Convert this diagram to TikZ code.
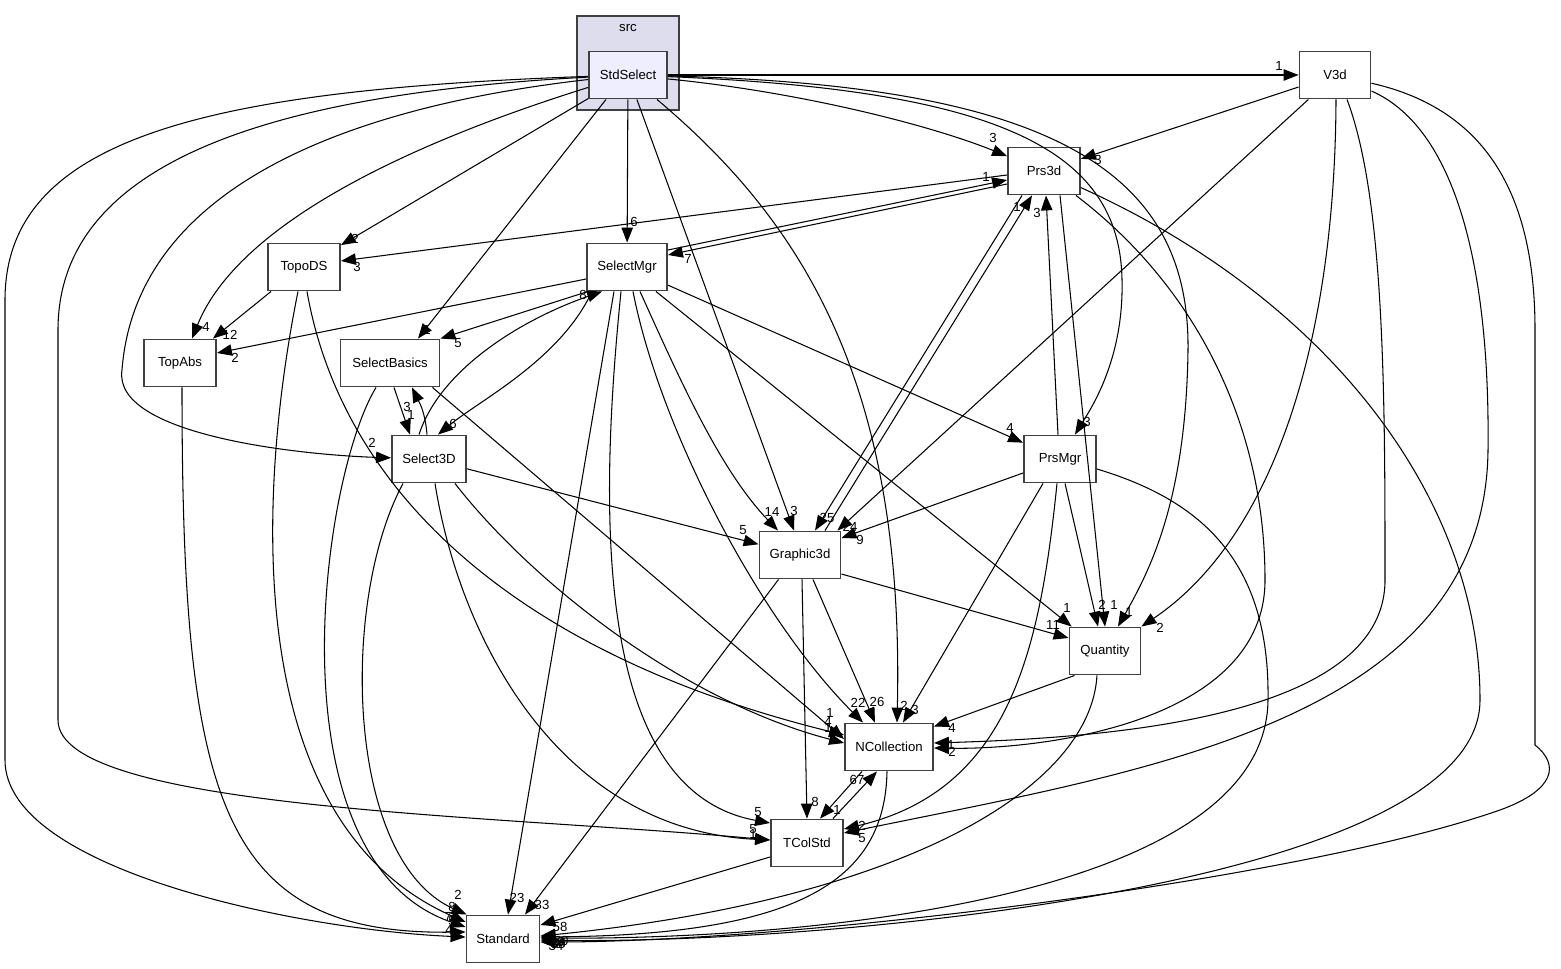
\documentclass[tikz,border=0pt]{standalone}
\usepackage{fontspec}
\setmainfont{Liberation Sans}
\usepackage{tikz}
\usetikzlibrary{arrows.meta,positioning,calc}
\definecolor{BoxLine}{HTML}{404040}
\definecolor{MainFill}{HTML}{EEEEFF}
\definecolor{SrcFill}{HTML}{DDDDEE}
\tikzset{
    every node/.style={font=\fontsize{7.5}{9}\selectfont},
    dirbox/.style={
        draw=BoxLine, fill=white, line width=1.1pt,
        minimum height=0.94cm, inner sep=0pt,
        text=black
    },
    mainbox/.style={dirbox, fill=MainFill},
    srcbox/.style={
        draw=BoxLine, fill=SrcFill, line width=1pt, inner sep=0pt
    },
    dep/.style={
        -{Triangle[length=8.5pt,width=6.5pt]}, line width=0.6pt, black
    },
    cnt/.style={inner sep=0pt, text=black},
}

\begin{document}
\begin{tikzpicture}[x=0.02cm, y=-0.02cm]
    \useasboundingbox (0,0) rectangle (1561,969);

    % Cluster src
    \node[srcbox, minimum width=2.04cm, minimum height=1.88cm] (src) at (628,63) {};
    \node[cnt, below=0.17cm of src.north] (srclabel) {src};

    % Directories
    \node[mainbox, minimum width=1.56cm] (StdSelect) at (628,75) {StdSelect};
    \node[dirbox, minimum width=1.42cm] (V3d) at (1335,75) {V3d};
    \node[dirbox, minimum width=1.44cm] (Prs3d) at (1044,171) {Prs3d};
    \node[dirbox, minimum width=1.44cm] (TopoDS) at (304,267) {TopoDS};
    \node[dirbox, minimum width=1.60cm] (SelectMgr) at (627,267) {SelectMgr};
    \node[dirbox, minimum width=1.44cm] (TopAbs) at (180,363) {TopAbs};
    \node[dirbox, minimum width=1.98cm] (SelectBasics) at (390,363) {SelectBasics};
    \node[dirbox, minimum width=1.48cm] (Select3D) at (429,459) {Select3D};
    \node[dirbox, minimum width=1.44cm] (PrsMgr) at (1060,459) {PrsMgr};
    \node[dirbox, minimum width=1.62cm] (Graphic3d) at (800,555) {Graphic3d};
    \node[dirbox, minimum width=1.42cm] (Quantity) at (1105,651) {Quantity};
    \node[dirbox, minimum width=1.76cm] (NCollection) at (889,747) {NCollection};
    \node[dirbox, minimum width=1.44cm] (TColStd) at (807,843) {TColStd};
    \node[dirbox, minimum width=1.46cm] (Standard) at (503,939) {Standard};

    % StdSelect
    \draw[dep] (StdSelect) -- (V3d) node[cnt] at (1279,66) {1};
    \draw[dep] (StdSelect) .. controls (800,92) and (930,125) .. (Prs3d) node[cnt] at (993,138) {3};
    \draw[dep] (StdSelect) -- (TopoDS) node[cnt] at (355,239) {2};
    \draw[dep] (StdSelect) .. controls (420,140) and (240,220) .. ($(TopAbs.north)+(12,0)$) node[cnt] at (206,327) {4};
    \draw[dep] ($(StdSelect.south)+(-22,0)$) -- ($(SelectBasics.north)+(28,0)$) node[cnt] at (427,330) {1};
    \draw[dep] (StdSelect) .. controls (320,110) and (135,200) .. (122,370)
        .. controls (112,435) and (300,455) .. (Select3D) node[cnt] at (372,443) {2};
    \draw[dep] (StdSelect) -- (SelectMgr) node[cnt] at (634,222) {6};
    \draw[dep] (StdSelect) -- ($(Graphic3d.north)+(-6,0)$) node[cnt] at (794,511) {3};
    \draw[dep] (StdSelect) .. controls (800,220) and (905,380) .. ($(NCollection.north)+(8,0)$) node[cnt] at (904,706) {2};
    \draw[dep] (StdSelect) .. controls (1050,85) and (1190,170) .. (1188,350)
        .. controls (1186,500) and (1150,570) .. ($(Quantity.north)+(13,0)$) node[cnt] at (1129,612) {1};
    \draw[dep] (StdSelect) .. controls (1000,90) and (1120,150) .. (1122,280)
        .. controls (1124,360) and (1090,410) .. (PrsMgr) node[cnt] at (1087,422) {3};
    \draw[dep] (StdSelect) .. controls (250,95) and (58,170) .. (58,330) -- (58,720)
        .. controls (58,810) and (500,815) .. ($(TColStd.west)+(0,-3)$) node[cnt] at (753,834) {1};
    \draw[dep] (StdSelect) .. controls (200,90) and (5,140) .. (5,300) -- (5,760)
        .. controls (5,870) and (300,930) .. ($(Standard.west)+(0,-2)$) node[cnt] at (449,930) {4};

    % V3d
    \draw[dep] (V3d) -- (Prs3d) node[cnt] at (1098,160) {3};
    \draw[dep] (V3d) -- ($(Graphic3d.north east)+(-4,0)$) node[cnt] at (850,527) {24};
    \draw[dep] ($(V3d.south)+(1,0)$) .. controls (1335,350) and (1270,540) .. (Quantity.north east) node[cnt] at (1160,628) {2};
    \draw[dep] ($(V3d.south)+(12,0)$) .. controls (1385,200) and (1385,400) .. (1385,580)
        .. controls (1385,720) and (1100,738) .. ($(NCollection.east)+(0,-4)$) node[cnt] at (951,745) {1};
    \draw[dep] (V3d) .. controls (1460,130) and (1490,280) .. (1488,450)
        .. controls (1485,720) and (1150,770) .. ($(TColStd.east)+(0,-10)$) node[cnt] at (862,838) {5};
    \draw[dep] (V3d) .. controls (1490,110) and (1535,200) .. (1535,330) -- (1535,745)
        .. controls (1560,765) and (1555,790) .. (1500,810)
        .. controls (1300,880) and (800,942) .. ($(Standard.east)+(0,3)$) node[cnt] at (556,946) {34};

    % Prs3d
    \draw[dep] ($(Prs3d.west)+(0,4)$) -- ($(TopoDS.east)+(0,-6)$) node[cnt] at (357,267) {3};
    \draw[dep] ($(Prs3d.west)+(0,13)$) -- ($(SelectMgr.east)+(0,-12)$) node[cnt] at (688,259) {7};
    \draw[dep] ($(Prs3d.south)+(-22,0)$) -- ($(Graphic3d.north)+(15,0)$) node[cnt] at (827,518) {25};
    \draw[dep] ($(Prs3d.south)+(16,0)$) -- (Quantity.north) node[cnt] at (1114,605) {1};
    \draw[dep] ($(Prs3d.south east)+(-5,0)$) .. controls (1200,290) and (1265,430) .. (1265,580)
        .. controls (1265,720) and (1050,750) .. ($(NCollection.east)+(0,1)$) node[cnt] at (952,752) {2};
    \draw[dep] (Prs3d) .. controls (1330,300) and (1480,500) .. (1480,700)
        .. controls (1480,890) and (800,945) .. ($(Standard.east)+(0,1)$) node[cnt] at (561,941) {50};

    % SelectMgr
    \draw[dep] ($(SelectMgr.east)+(0,-17)$) -- ($(Prs3d.west)+(0,9)$) node[cnt] at (986,177) {1};
    \draw[dep] ($(SelectMgr.west)+(0,12)$) -- ($(TopAbs.east)+(0,-10)$) node[cnt] at (235,358) {2};
    \draw[dep] ($(SelectMgr.south west)+(2,0)$) -- (SelectBasics.north east) node[cnt] at (458,343) {5};
    \draw[dep] ($(SelectMgr.south west)+(6,0)$) .. controls (560,360) and (480,400) .. ($(Select3D.north)+(9,0)$) node[cnt] at (453,424) {6};
    \draw[dep] ($(SelectMgr.south)+(13,0)$) .. controls (680,380) and (720,470) .. ($(Graphic3d.north)+(-22,0)$) node[cnt] at (772,512) {14};
    \draw[dep] (SelectMgr) -- (PrsMgr) node[cnt] at (1010,428) {4};
    \draw[dep] ($(SelectMgr.south east)+(-12,0)$) -- ($(Quantity.north west)+(3,0)$) node[cnt] at (1067,608) {1};
    \draw[dep] ($(SelectMgr.south)+(6,0)$) .. controls (660,430) and (760,620) .. ($(NCollection.north)+(-26,0)$) node[cnt] at (858,703) {22};
    \draw[dep] ($(SelectMgr.south)+(-6,0)$) .. controls (600,500) and (590,790) .. ($(TColStd.west)+(0,-20)$) node[cnt] at (758,812) {5};
    \draw[dep] ($(SelectMgr.south)+(-13,0)$) -- ($(Standard.north)+(5,0)$) node[cnt] at (517,898) {23};

    % TopoDS
    \draw[dep] ($(TopoDS.south west)+(4,0)$) -- ($(TopAbs.north east)+(-4,0)$) node[cnt] at (230,335) {12};
    \draw[dep] ($(TopoDS.south)+(-6,0)$) .. controls (260,480) and (235,820) .. ($(Standard.west)+(0,-17)$) node[cnt] at (452,907) {8};
    \draw[dep] ($(TopoDS.south)+(3,0)$) .. controls (340,480) and (500,650) .. ($(NCollection.west)+(0,-12)$) node[cnt] at (830,713) {1};

    % TopAbs
    \draw[dep] ($(TopAbs.south)+(2,0)$) .. controls (182,800) and (220,935) .. ($(Standard.west)+(0,-7)$) node[cnt] at (452,921) {5};

    % SelectBasics
    \draw[dep] ($(SelectBasics.south)+(4,0)$) -- ($(Select3D.north)+(-19,0)$) node[cnt] at (411,415) {1};
    \draw[dep] ($(SelectBasics.south east)+(-8,0)$) -- ($(NCollection.west)+(0,-8)$) node[cnt] at (828,722) {4};
    \draw[dep] ($(SelectBasics.south)+(-14,0)$) .. controls (320,480) and (270,860) .. ($(Standard.west)+(0,-12)$) node[cnt] at (448,917) {7};

    % Select3D
    \draw[dep] ($(Select3D.north)+(-2,0)$) .. controls (425,410) and (418,400) .. ($(SelectBasics.south)+(22,0)$) node[cnt] at (407,407) {3};
    \draw[dep] ($(Select3D.north)+(-10,0)$) .. controls (440,370) and (520,320) .. ($(SelectMgr.south west)+(16,0)$) node[cnt] at (583,295) {8};
    \draw[dep] (Select3D) -- (Graphic3d) node[cnt] at (743,530) {5};
    \draw[dep] ($(Select3D.south east)+(-12,0)$) .. controls (530,580) and (680,700) .. ($(NCollection.west)+(0,-4)$) node[cnt] at (828,728) {1};
    \draw[dep] ($(Select3D.south)+(6,0)$) .. controls (460,640) and (560,830) .. ($(TColStd.west)+(0,-3)$) node[cnt] at (753,829) {5};
    \draw[dep] ($(Select3D.south west)+(12,0)$) .. controls (340,600) and (345,860) .. ($(Standard.north west)+(1,0)$) node[cnt] at (458,895) {2};

    % PrsMgr
    \draw[dep] ($(PrsMgr.north)+(-2,0)$) -- ($(Prs3d.south)+(2,0)$) node[cnt] at (1037,213) {3};
    \draw[dep] ($(PrsMgr.west)+(0,14)$) -- ($(Graphic3d.east)+(0,-17)$) node[cnt] at (860,540) {9};
    \draw[dep] ($(PrsMgr.south)+(5,0)$) -- ($(Quantity.north)+(-7,0)$) node[cnt] at (1102,605) {2};
    \draw[dep] ($(PrsMgr.south)+(-17,0)$) -- ($(NCollection.north)+(14,0)$) node[cnt] at (915,710) {3};
    \draw[dep] ($(PrsMgr.south)+(-3,0)$) .. controls (1040,650) and (1010,790) .. ($(TColStd.east)+(0,-14)$) node[cnt] at (862,826) {2};
    \draw[dep] ($(PrsMgr.east)+(0,10)$) .. controls (1200,500) and (1270,560) .. (1268,700)
        .. controls (1266,900) and (800,940) .. ($(Standard.east)+(0,-1)$) node[cnt] at (557,942) {30};

    % Graphic3d
    \draw[dep] ($(Graphic3d.north)+(25,0)$) -- ($(Prs3d.south)+(-12,0)$) node[cnt] at (1017,207) {1};
    \draw[dep] ($(Graphic3d.east)+(0,19)$) -- ($(Quantity.west)+(0,-13)$) node[cnt] at (1053,625) {11};
    \draw[dep] ($(Graphic3d.south)+(13,0)$) -- ($(NCollection.north)+(-14,0)$) node[cnt] at (877,702) {26};
    \draw[dep] ($(Graphic3d.south)+(2,0)$) -- (TColStd.north) node[cnt] at (815,802) {8};
    \draw[dep] ($(Graphic3d.south west)+(20,0)$) -- ($(Standard.north)+(22,0)$) node[cnt] at (542,905) {33};

    % Quantity
    \draw[dep] ($(Quantity.south west)+(6,0)$) -- ($(NCollection.north east)+(0,4)$) node[cnt] at (952,728) {4};
    \draw[dep] ($(Quantity.south)+(-8,0)$) .. controls (1090,790) and (900,900) .. ($(Standard.east)+(0,-3)$) node[cnt] at (558,944) {30};

    % NCollection and TColStd
    \draw[dep] ($(NCollection.south)+(-27,0)$) -- ($(TColStd.north)+(13,0)$) node[cnt] at (837,810) {1};
    \draw[dep] ($(TColStd.north east)+(-11,0)$) -- ($(NCollection.south)+(-12,0)$) node[cnt] at (857,780) {67};
    \draw[dep] ($(NCollection.south)+(-2,0)$) .. controls (885,880) and (800,935) .. ($(Standard.east)+(0,-2)$) node[cnt] at (559,943) {34};
    \draw[dep] ($(TColStd.west)+(0,14)$) -- ($(Standard.east)+(0,-14)$) node[cnt] at (560,927) {58};
\end{tikzpicture}
\end{document}
